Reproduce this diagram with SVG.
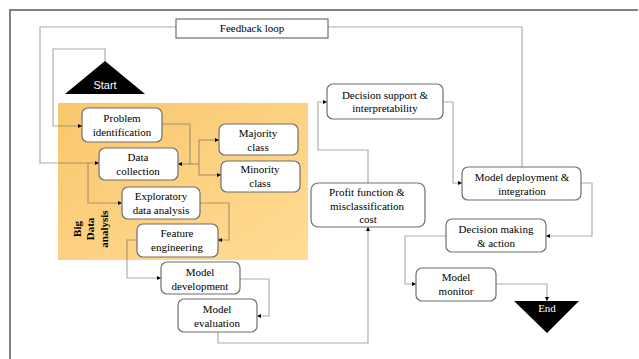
<svg xmlns="http://www.w3.org/2000/svg" width="639" height="359" viewBox="0 0 639 359">
<defs>
<linearGradient id="og" x1="0" y1="0" x2="1" y2="1">
<stop offset="0" stop-color="#F9C66C"/>
<stop offset="1" stop-color="#FFDC95"/>
</linearGradient>
<marker id="ah" viewBox="0 0 6 6" refX="6" refY="3" markerWidth="4" markerHeight="4" orient="auto" markerUnits="userSpaceOnUse">
<path d="M0,0 L6,3 L0,6 z" fill="#000"/>
</marker>
<style>
.box{fill:#fff;stroke:#6f6f6f;stroke-width:1.2}
.t{font-family:'Liberation Serif','Times New Roman',serif;font-size:11px;fill:#000;text-anchor:middle}
.w{font-family:'Liberation Serif','Times New Roman',serif;font-size:11px;fill:#fff;text-anchor:middle}
.ws{font-family:'Liberation Sans',Arial,sans-serif;font-size:11px;fill:#fff;text-anchor:middle}
.b{font-family:'Liberation Serif','Times New Roman',serif;font-size:11px;font-weight:bold;fill:#000;text-anchor:middle}
.c{fill:none;stroke:#5a5a5a;stroke-opacity:0.5;stroke-width:1.2}
.a{marker-end:url(#ah)}
</style>
</defs>
<rect width="639" height="359" fill="#fff"/>
<path d="M10,359 L10,10 L638,10" fill="none" stroke="#808080" stroke-width="2"/>
<g id="big-data-analysis">
<rect x="58" y="103" width="250" height="157" fill="url(#og)"/>
<text class="b" font-family="'Liberation Serif', serif" transform="translate(81,229) rotate(-90)">Big</text>
<text class="b" font-family="'Liberation Serif', serif" transform="translate(94,229) rotate(-90)">Data</text>
<text class="b" font-family="'Liberation Serif', serif" transform="translate(108,229) rotate(-90)">analysis</text>
</g>
<g id="connectors">
<path class="c a" d="M105,61 L105,49 L53,49 L53,126 L82,126"/>
<path class="c a" d="M176,27 L40,27 L40,163 L99,163"/>
<path class="c" d="M328,27 L522,27 L522,167"/>
<path class="c" d="M162,124 L190,124 L190,164"/>
<path class="c a" d="M199,164 L178,164"/>
<path class="c" d="M199,140 L199,175"/>
<path class="c a" d="M199,140 L219,140"/>
<path class="c a" d="M199,175 L221,175"/>
<path class="c a" d="M88,163 L88,203 L122,203"/>
<path class="c a" d="M200,203 L229,203 L229,240 L218,240"/>
<path class="c a" d="M137,240 L127,240 L127,278 L161,278"/>
<path class="c a" d="M240,279 L269,279 L269,316 L257,316"/>
<path class="c a" d="M218,332 L218,343 L368,343 L368,227"/>
<path class="c a" d="M368,183 L368,150 L318,150 L318,102 L327,102"/>
<path class="c a" d="M443,102 L453,102 L453,183 L462,183"/>
<path class="c a" d="M581,183 L592,183 L592,236 L546,236"/>
<path class="c a" d="M446,236 L405,236 L405,284 L416,284"/>
<path class="c a" d="M496,284 L547,284 L547,301"/>
</g>
<g font-family="'Liberation Serif', 'Times New Roman', serif">
<g id="feedback-loop">
<rect x="176" y="19" width="152" height="19" fill="#fff" stroke="#6f6f6f" stroke-width="1.2"/>
<text class="t" x="252" y="32">Feedback loop</text>
</g>
<g id="start">
<path d="M105,61 L145,94 L65,94 z" fill="#000"/>
<text class="ws" font-family="'Liberation Sans', sans-serif" x="105" y="89">Start</text>
</g>
<g id="problem-identification">
<rect class="box" x="82" y="108" width="80" height="34" rx="6"/>
<text class="t" x="122" y="122">Problem</text>
<text class="t" x="122" y="136">identification</text>
</g>
<g id="data-collection">
<rect class="box" x="99" y="148" width="79" height="32" rx="6"/>
<text class="t" x="138" y="161">Data</text>
<text class="t" x="138" y="175">collection</text>
</g>
<g id="majority-class">
<rect class="box" x="219" y="124" width="79" height="31" rx="6"/>
<text class="t" x="258" y="137">Majority</text>
<text class="t" x="258" y="151">class</text>
</g>
<g id="minority-class">
<rect class="box" x="221" y="161" width="79" height="31" rx="6"/>
<text class="t" x="260" y="173">Minority</text>
<text class="t" x="260" y="187">class</text>
</g>
<g id="exploratory-data-analysis">
<rect class="box" x="122" y="187" width="78" height="32" rx="6"/>
<text class="t" x="161" y="200">Exploratory</text>
<text class="t" x="161" y="214">data analysis</text>
</g>
<g id="feature-engineering">
<rect class="box" x="137" y="224" width="81" height="33" rx="6"/>
<text class="t" x="177" y="237">Feature</text>
<text class="t" x="177" y="251">engineering</text>
</g>
<g id="model-development">
<rect class="box" x="161" y="262" width="79" height="32" rx="6"/>
<text class="t" x="200" y="276">Model</text>
<text class="t" x="200" y="290">development</text>
</g>
<g id="model-evaluation">
<rect class="box" x="178" y="299" width="79" height="33" rx="6"/>
<text class="t" x="217" y="313">Model</text>
<text class="t" x="217" y="327">evaluation</text>
</g>
<g id="profit-function">
<rect class="box" x="311" y="183" width="114" height="44" rx="7"/>
<text class="t" x="367" y="196">Profit function &amp;</text>
<text class="t" x="367" y="210">misclassification</text>
<text class="t" x="368" y="223">cost</text>
</g>
<g id="decision-support">
<rect class="box" x="327" y="84" width="116" height="35" rx="6"/>
<text class="t" x="385" y="99">Decision support &amp;</text>
<text class="t" x="385" y="112">interpretability</text>
</g>
<g id="model-deployment">
<rect class="box" x="462" y="167" width="119" height="33" rx="6"/>
<text class="t" x="522" y="181">Model deployment &amp;</text>
<text class="t" x="522" y="195">integration</text>
</g>
<g id="decision-making">
<rect class="box" x="446" y="219" width="100" height="33" rx="6"/>
<text class="t" x="496" y="233">Decision making</text>
<text class="t" x="496" y="247">&amp; action</text>
</g>
<g id="model-monitor">
<rect class="box" x="416" y="268" width="80" height="33" rx="6"/>
<text class="t" x="456" y="281">Model</text>
<text class="t" x="456" y="295">monitor</text>
</g>
<g id="end">
<path d="M514,301 L579,301 L547,333 z" fill="#000"/>
<text class="w" x="547" y="312">End</text>
</g>
</g>
</svg>
